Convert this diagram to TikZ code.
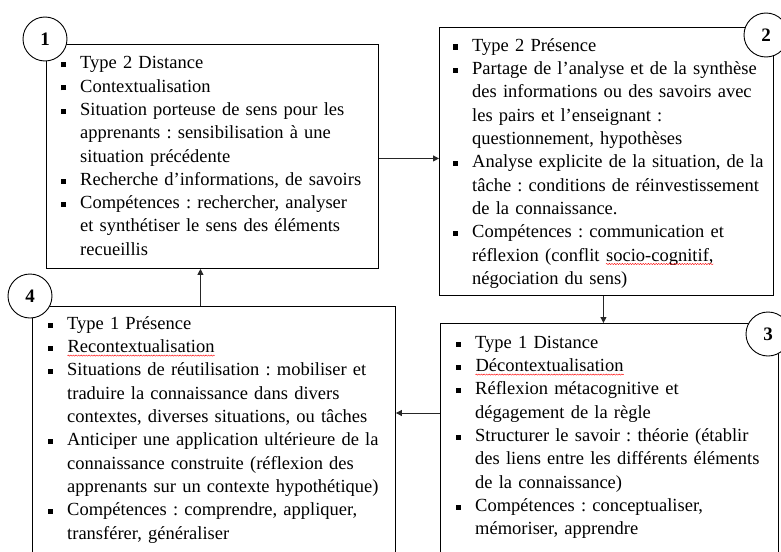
\documentclass[tikz,border=0pt]{standalone}
\usepackage{fontspec}
\setmainfont{Liberation Serif}
\usetikzlibrary{arrows.meta,decorations.pathmorphing}
\frenchspacing

\newcommand{\sq}{\par\noindent\llap{\raisebox{1.8pt}{\rule{5pt}{5pt}}\hspace{14.5pt}}}
\newcommand{\redwave}[1]{\tikz[baseline=(w.base)]{%
  \node[inner sep=0pt,text width=,anchor=base] (w) {#1};
  \draw[red,line width=0.4pt,decorate,decoration={snake,amplitude=0.6pt,segment length=2.6pt}]
    ([yshift=-3pt]w.base west) -- ([yshift=-3pt]w.base east);}}

\begin{document}
\begin{tikzpicture}[x=1pt,y=-1pt,
  phase/.style={draw,line width=0.9pt,anchor=north west,inner sep=0pt},
  body/.style={anchor=base west,inner sep=0pt,text width=360pt,align=left,
    font=\fontsize{18.5}{23.3}\selectfont},
  num/.style={circle,draw,line width=0.9pt,fill=white,minimum size=44pt,
    inner sep=0pt,font=\fontsize{19}{19}\selectfont\bfseries},
  ar/.style={line width=0.8pt,black!85,-{Triangle[length=6pt,width=6pt]}}]
\useasboundingbox (0,0) rectangle (781,551);
\clip (0,0) rectangle (781,551);
% the four phases
\node[phase,minimum width=332pt,minimum height=224pt] (b1) at (46,44) {};
\node[phase,minimum width=334pt,minimum height=268pt] (b2) at (439,27) {};
\node[phase,minimum width=338pt,minimum height=260pt] (b3) at (440,323) {};
\node[phase,minimum width=363pt,minimum height=280pt] (b4) at (32,306) {};
\node[body] (t1) at ([xshift=34pt,yshift=-1.5pt]b1.north west) {%
  \sq Type 2 Distance
  \sq Contextualisation
  \sq Situation porteuse de sens pour les\\apprenants : sensibilisation à une\\situation précédente
  \sq Recherche d’informations, de savoirs
  \sq Compétences : rechercher, analyser\\et synthétiser le sens des éléments\\recueillis};
\node[body] (t2) at ([xshift=33pt,yshift=-1pt]b2.north west) {%
  \sq Type 2 Présence
  \sq Partage de l’analyse et de la synthèse\\des informations ou des savoirs avec\\les pairs et l’enseignant :\\questionnement, hypothèses
  \sq Analyse explicite de la situation, de la\\tâche : conditions de réinvestissement\\de la connaissance.
  \sq Compétences : communication et\\réflexion (conflit \redwave{socio-cognitif,}\\négociation du sens)};
\node[body] (t3) at ([xshift=35pt,yshift=-2pt]b3.north west) {%
  \sq Type 1 Distance
  \sq \redwave{Décontextualisation}
  \sq Réflexion métacognitive et\\dégagement de la règle
  \sq Structurer le savoir : théorie (établir\\des liens entre les différents éléments\\de la connaissance)
  \sq Compétences : conceptualiser,\\mémoriser, apprendre};
\node[body] (t4) at ([xshift=35pt,yshift=0pt]b4.north west) {%
  \sq Type 1 Présence
  \sq \redwave{Recontextualisation}
  \sq Situations de réutilisation : mobiliser et\\traduire la connaissance dans divers\\contextes, diverses situations, ou tâches
  \sq Anticiper une application ultérieure de la\\connaissance construite (réflexion des\\apprenants sur un contexte hypothétique)
  \sq Compétences : comprendre, appliquer,\\transférer, généraliser};
% cycle arrows
\coordinate (p12) at ([yshift=-2pt]b1.east);
\coordinate (p23) at ([xshift=-3pt]b2.south);
\coordinate (p34) at ([yshift=-90pt]b3.north west);
\coordinate (p41) at ([xshift=-13.5pt]b4.north);
\draw[ar] (p12) -- (p12 -| b2.west);
\draw[ar] (p23) -- (p23 |- b3.north);
\draw[ar] (p34) -- (p34 -| b4.east);
\draw[ar] (p41) -- (p41 |- b1.south);
% phase numbers
\foreach \n/\pos in {1/{(45,39)},2/{(766,35)},3/{(768,334)},4/{(30,296)}}
  \node[num] (c\n) at \pos {\n};
\end{tikzpicture}
\end{document}
